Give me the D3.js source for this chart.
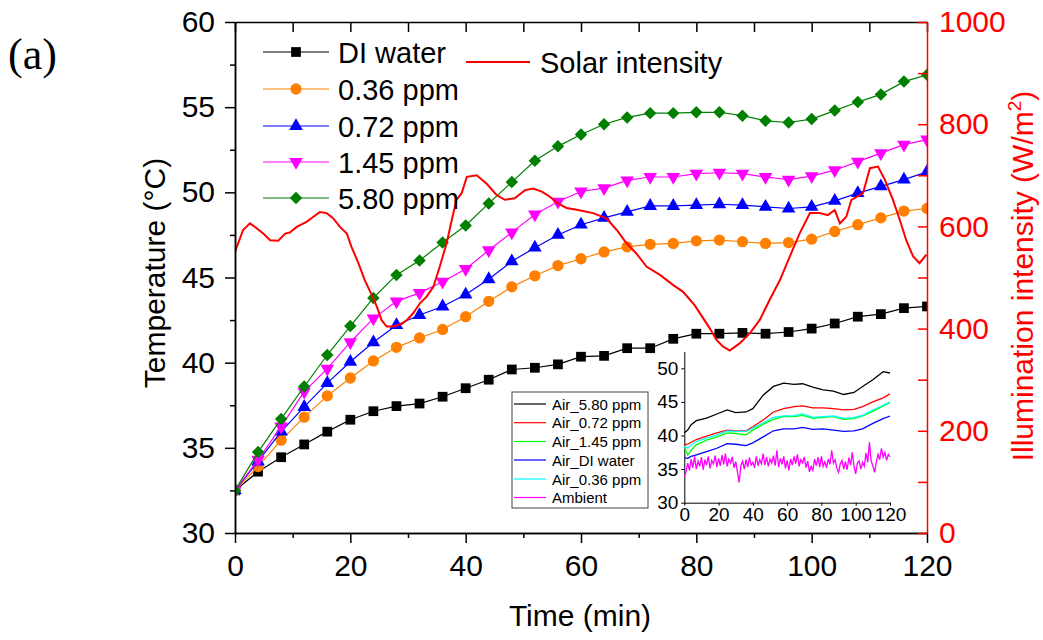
<!DOCTYPE html>
<html>
<head>
<meta charset="utf-8">
<script src="https://cdn.jsdelivr.net/npm/d3@7"></script>
<style>
  html, body { margin: 0; padding: 0; background: #fff; }
  svg { display: block; font-family: Arial, "Liberation Sans", sans-serif; }
</style>
</head>
<body>
<div id="chart"></div>
<script>
// ---- data ----
const MARK_TIMES = [0, 4, 8, 12, 16, 20, 24, 28, 32, 36, 40, 44, 48, 52, 56, 60, 64, 68, 72, 76, 80, 84, 88, 92, 96, 100, 104, 108, 112, 116, 120];
const DI_WATER = [32.5, 33.6, 34.45, 35.2, 35.95, 36.65, 37.15, 37.45, 37.6, 38.0, 38.5, 39.0, 39.6, 39.7, 39.9, 40.35, 40.4, 40.85, 40.85, 41.4, 41.7, 41.7, 41.75, 41.7, 41.8, 42.0, 42.3, 42.7, 42.85, 43.2, 43.3];
const PPM_036 = [32.5, 33.9, 35.45, 36.8, 38.05, 39.1, 40.1, 40.9, 41.45, 41.95, 42.7, 43.6, 44.45, 45.1, 45.7, 46.1, 46.5, 46.8, 46.95, 47.0, 47.15, 47.2, 47.1, 47.0, 47.05, 47.25, 47.7, 48.1, 48.5, 48.9, 49.05];
const PPM_072 = [32.5, 34.2, 35.95, 37.4, 38.8, 40.05, 41.2, 42.2, 42.8, 43.3, 44.0, 44.9, 45.95, 46.75, 47.5, 48.1, 48.5, 48.85, 49.2, 49.2, 49.25, 49.3, 49.25, 49.15, 49.05, 49.15, 49.5, 49.95, 50.35, 50.75, 51.2];
const PPM_145 = [32.5, 34.3, 36.25, 38.3, 39.65, 41.2, 42.6, 43.6, 44.1, 44.75, 45.5, 46.6, 47.65, 48.7, 49.45, 50.05, 50.25, 50.7, 50.9, 50.9, 51.1, 51.15, 51.1, 50.9, 50.75, 50.95, 51.3, 51.8, 52.3, 52.8, 53.1];
const PPM_580 = [32.5, 34.75, 36.7, 38.6, 40.45, 42.15, 43.8, 45.15, 46.0, 47.05, 48.05, 49.35, 50.6, 51.85, 52.7, 53.4, 54.0, 54.4, 54.65, 54.65, 54.7, 54.7, 54.5, 54.2, 54.1, 54.3, 54.8, 55.3, 55.75, 56.5, 56.9];

const SOLAR_TIMES = [0, 1.4, 2.6, 3.8, 4.9, 6.1, 7.5, 8.7, 9.5, 10.7, 12.4, 13.6, 14.7, 15.9, 17.0, 18.2, 19.4, 20.2, 21.4, 22.5, 23.7, 24.6, 25.4, 26.3, 27.4, 28.9, 29.8, 30.9, 32.1, 33.2, 34.4, 35.5, 36.7, 37.6, 38.4, 39.3, 40.2, 41.9, 43.6, 45.4, 46.8, 48.5, 50.3, 51.7, 53.2, 54.6, 56.0, 57.5, 59.5, 62.1, 64.4, 66.2, 67.9, 69.6, 71.4, 73.7, 76.0, 77.7, 79.7, 81.2, 82.3, 83.5, 84.6, 85.8, 87.5, 89.3, 91.0, 92.7, 94.5, 96.2, 97.9, 99.7, 101.4, 102.8, 104.0, 104.9, 106.0, 106.9, 108.9, 110.1, 111.5, 112.7, 114.1, 115.3, 116.4, 117.6, 118.7, 119.9];
const SOLAR_INTENSITY = [550, 593, 606, 596, 586, 573, 572, 586, 588, 599, 609, 619, 628, 626, 616, 599, 586, 560, 528, 495, 466, 443, 417, 404, 404, 409, 417, 430, 450, 462, 482, 521, 567, 613, 652, 665, 697, 700, 684, 661, 652, 655, 671, 674, 668, 658, 645, 636, 632, 626, 616, 593, 567, 547, 521, 505, 485, 472, 446, 420, 401, 378, 365, 357, 371, 391, 417, 456, 495, 541, 586, 626, 626, 622, 632, 606, 619, 652, 665, 714, 717, 691, 652, 612, 573, 541, 528, 545];

const INSET_TIMES = [0, 2, 4, 7, 13, 19, 25, 30, 36, 40, 46, 52, 58, 64, 69, 75, 81, 87, 93, 99, 104, 110, 116, 120];
const AIR_580 = [40.4, 40.8, 41.6, 42.2, 42.6, 43.2, 43.8, 43.4, 43.5, 44.0, 46.0, 47.3, 47.8, 47.6, 47.7, 47.2, 46.8, 46.6, 46.1, 46.4, 47.3, 48.3, 49.5, 49.3];
const AIR_072 = [38.6, 38.7, 39.0, 39.4, 39.9, 40.4, 40.8, 40.7, 40.7, 41.3, 42.3, 43.5, 44.0, 44.3, 44.4, 44.1, 44.1, 44.0, 43.8, 43.9, 44.3, 45.0, 45.6, 46.2];
const AIR_145 = [38.3, 37.1, 37.8, 38.6, 39.3, 39.8, 40.4, 40.3, 40.1, 40.8, 41.7, 42.4, 42.8, 42.8, 43.0, 42.55, 42.7, 42.8, 42.4, 42.5, 42.9, 43.6, 44.4, 44.9];
const AIR_DI = [36.7, 36.6, 36.9, 37.1, 37.6, 38.1, 38.8, 38.7, 38.5, 38.9, 39.8, 40.7, 41.0, 41.0, 41.2, 40.9, 41.0, 40.8, 40.6, 40.7, 41.0, 41.8, 42.5, 42.9];
const AIR_036 = [38.4, 38.1, 38.6, 39.1, 39.6, 40.1, 40.7, 40.6, 40.6, 41.1, 41.9, 42.7, 42.9, 42.95, 43.2, 42.7, 42.8, 42.9, 42.55, 42.65, 43.0, 43.8, 44.5, 45.0];
const AMBIENT_TIMES = [
  0, 1, 2, 3, 4, 5, 6, 7, 8, 9, 10, 11, 12, 13, 14, 15, 16, 17, 18, 19,
  20, 21, 22, 23, 24, 25, 26, 27, 28, 29, 30, 31, 32, 33, 34, 35, 36, 37, 38, 39,
  40, 41, 42, 43, 44, 45, 46, 47, 48, 49, 50, 51, 52, 53, 54, 55, 56, 57, 58, 59,
  60, 61, 62, 63, 64, 65, 66, 67, 68, 69, 70, 71, 72, 73, 74, 75, 76, 77, 78, 79,
  80, 81, 82, 83, 84, 85, 86, 87, 88, 89, 90, 91, 92, 93, 94, 95, 96, 97, 98, 99,
  100, 101, 102, 103, 104, 105, 106, 107, 108, 109, 110, 111, 112, 113, 114, 115, 116, 117, 118, 119, 120];
const AMBIENT = [
  33.8, 34.6, 35.9, 34.8, 36.5, 35.2, 36.9, 35.0, 36.2, 35.4, 36.8, 34.9, 36.4, 35.6, 36.9, 35.1, 36.3, 35.8, 37.0, 35.3,
  36.6, 35.5, 37.1, 35.7, 37.3, 35.4, 36.5, 35.9, 36.8, 35.2, 36.1, 34.6, 33.0, 35.5, 36.2, 35.0, 36.4, 35.3, 36.7, 35.6,
  36.0, 35.2, 36.9, 35.5, 36.4, 35.8, 37.3, 35.6, 36.8, 35.4, 36.5, 35.9, 37.0, 35.5, 37.8, 35.3, 36.6, 35.7, 36.9, 35.1,
  36.3, 34.8, 36.5, 35.6, 36.9, 35.8, 37.2, 35.4, 36.4, 35.9, 36.8, 35.2, 36.2, 34.6, 35.4, 34.8, 36.5, 35.5, 36.8, 35.3,
  36.9, 35.4, 36.1, 35.2, 36.5, 35.7, 37.8, 35.9, 36.4, 35.1, 34.5, 35.8, 36.3, 35.0, 36.1, 34.9, 36.7, 35.6, 37.5, 35.4,
  34.3, 35.9, 36.2, 35.0, 36.0, 35.4, 37.4, 36.0, 39.0, 36.2, 35.5, 34.5, 36.0, 37.2, 36.4, 38.1, 36.8, 37.5, 36.3, 37.2, 36.8];

// ---- tick labels ----
const TEMP_TICKS = [30, 35, 40, 45, 50, 55, 60];
const TEMP_MINOR = [32.5, 37.5, 42.5, 47.5, 52.5, 57.5];
const TIME_TICKS = [0, 20, 40, 60, 80, 100, 120];
const TIME_MINOR = [10, 30, 50, 70, 90, 110];
const SOLAR_TICKS = [0, 100, 200, 300, 400, 500, 600, 700, 800, 900, 1000];
const INSET_TEMP_TICKS = [30, 35, 40, 45, 50];

const WIDTH = 1043;
const HEIGHT = 640;
const FONT = "Arial, 'Liberation Sans', sans-serif";
const PLOT = { left: 235, right: 927, top: 22, bottom: 533 };
const INSET = { left: 684.3, right: 890, top: 351.5, bottom: 502.7 };

const SYMBOLS = {
  square: { type: d3.symbolSquare, size: 95, rotate: 0 },
  circle: { type: d3.symbolCircle, size: 100, rotate: 0 },
  triangleUp: { type: d3.symbolTriangle, size: 80, rotate: 0 },
  triangleDown: { type: d3.symbolTriangle, size: 80, rotate: 180 },
  diamond: { type: d3.symbolSquare, size: 78, rotate: 45 }
};

const MAIN_SERIES = [
  { name: "DI water", values: DI_WATER, color: "#000000", symbol: "square" },
  { name: "0.36 ppm", values: PPM_036, color: "#ff8000", symbol: "circle" },
  { name: "0.72 ppm", values: PPM_072, color: "#0000ff", symbol: "triangleUp" },
  { name: "1.45 ppm", values: PPM_145, color: "#ff00ff", symbol: "triangleDown" },
  { name: "5.80 ppm", values: PPM_580, color: "#007f00", symbol: "diamond" }
];

const INSET_SERIES = [
  { name: "Air_5.80 ppm", times: INSET_TIMES, values: AIR_580, color: "#000000" },
  { name: "Air_0.72 ppm", times: INSET_TIMES, values: AIR_072, color: "#ff0000" },
  { name: "Air_1.45 ppm", times: INSET_TIMES, values: AIR_145, color: "#00ff00" },
  { name: "Air_DI water", times: INSET_TIMES, values: AIR_DI, color: "#0000ff" },
  { name: "Air_0.36 ppm", times: INSET_TIMES, values: AIR_036, color: "#00ffff" },
  { name: "Ambient", times: AMBIENT_TIMES, values: AMBIENT, color: "#ff00ff" }
];

/**
 * Draws a marker symbol at a point.
 */
function drawSymbol(g, kind, cx, cy, color) {
  const spec = SYMBOLS[kind];
  g.append("path")
    .attr("d", d3.symbol().type(spec.type).size(spec.size)())
    .attr("transform", `translate(${cx},${cy}) rotate(${spec.rotate})`)
    .attr("fill", color);
}

/**
 * Applies stroke and font styling to an axis group.
 */
function styleAxis(g, color, fontSize, width) {
  g.attr("font-family", FONT).attr("font-size", fontSize);
  g.select(".domain").attr("stroke", color).attr("stroke-width", width);
  g.selectAll(".tick line").attr("stroke", color).attr("stroke-width", width);
  g.selectAll(".tick text").attr("fill", color);
}

function renderAxes(svg, x, y, yR) {
  const left = svg.append("g").attr("transform", `translate(${PLOT.left},0)`);
  left.append("g").call(d3.axisLeft(y).tickValues(TEMP_MINOR).tickSize(5).tickFormat("").tickSizeOuter(0))
    .call((g) => styleAxis(g, "#000", 30, 1.5));
  left.append("g").call(d3.axisLeft(y).tickValues(TEMP_TICKS).tickSize(10).tickPadding(10).tickSizeOuter(0))
    .call((g) => styleAxis(g, "#000", 30, 1.5));

  const bottom = svg.append("g").attr("transform", `translate(0,${PLOT.bottom})`);
  bottom.append("g").call(d3.axisBottom(x).tickValues(TIME_MINOR).tickSize(5).tickFormat("").tickSizeOuter(0))
    .call((g) => styleAxis(g, "#000", 30, 1.5));
  bottom.append("g").call(d3.axisBottom(x).tickValues(TIME_TICKS).tickSize(10).tickPadding(12).tickSizeOuter(0))
    .call((g) => styleAxis(g, "#000", 30, 1.5));

  svg.append("g").attr("transform", `translate(0,${PLOT.top})`)
    .call(d3.axisTop(x).tickValues(TIME_TICKS.concat(TIME_MINOR)).tickSize(-10).tickFormat("").tickSizeOuter(0))
    .call((g) => styleAxis(g, "#000", 30, 1.5));

  svg.append("g").attr("transform", `translate(${PLOT.right},0)`)
    .call(d3.axisRight(yR).tickValues(SOLAR_TICKS).tickSize(-9).tickPadding(12).tickSizeOuter(0)
      .tickFormat((d) => (d % 200 === 0 ? d : "")))
    .call((g) => styleAxis(g, "#ff0000", 30, 1.5));
}

function renderAxisTitles(svg) {
  svg.append("text")
    .attr("transform", "translate(165,273) rotate(-90)")
    .attr("text-anchor", "middle")
    .attr("font-size", 30)
    .text("Temperature (\u00b0C)");

  const right = svg.append("text")
    .attr("transform", "translate(1033,276) rotate(-90)")
    .attr("text-anchor", "middle")
    .attr("font-size", 30)
    .attr("fill", "#ff0000");
  right.append("tspan").text("Illumination intensity (W/m");
  right.append("tspan").attr("dy", -12).attr("font-size", 19).text("2");
  right.append("tspan").attr("dy", 12).text(")");

  svg.append("text")
    .attr("x", 580).attr("y", 626)
    .attr("text-anchor", "middle")
    .attr("font-size", 30)
    .text("Time (min)");

  svg.append("text")
    .attr("x", 8).attr("y", 69)
    .attr("font-family", "'Liberation Serif', 'Times New Roman', serif")
    .attr("font-size", 44)
    .text("(a)");
}

function renderMainSeries(svg, x, y, yR) {
  svg.append("clipPath").attr("id", "plot-clip")
    .append("rect")
    .attr("x", PLOT.left).attr("y", PLOT.top)
    .attr("width", PLOT.right - PLOT.left).attr("height", PLOT.bottom - PLOT.top);
  const layer = svg.append("g").attr("clip-path", "url(#plot-clip)");
  const line = d3.line().x((d) => x(d[0])).y((d) => y(d[1]));

  MAIN_SERIES.forEach((series) => {
    const points = MARK_TIMES.map((t, i) => [t, series.values[i]]);
    layer.append("path")
      .attr("d", line(points))
      .attr("fill", "none")
      .attr("stroke", series.color)
      .attr("stroke-width", 1.2);
    const marks = layer.append("g");
    points.forEach((p) => drawSymbol(marks, series.symbol, x(p[0]), y(p[1]), series.color));
  });

  const solarLine = d3.line().x((d) => x(d[0])).y((d) => yR(d[1]));
  layer.append("path")
    .attr("d", solarLine(SOLAR_TIMES.map((t, i) => [t, SOLAR_INTENSITY[i]])))
    .attr("fill", "none")
    .attr("stroke", "#ff0000")
    .attr("stroke-width", 2);
}

function renderMainLegend(svg) {
  const rows = [52, 89, 126, 162, 198];
  MAIN_SERIES.forEach((series, i) => {
    const g = svg.append("g").attr("transform", `translate(0,${rows[i]})`);
    g.append("line").attr("x1", 263).attr("x2", 329).attr("y1", 0).attr("y2", 0)
      .attr("stroke", series.color).attr("stroke-width", 1.2);
    drawSymbol(g, series.symbol, 296, 0, series.color);
    g.append("text").attr("x", 338).attr("y", 10.5).attr("font-size", 29).text(series.name);
  });
  svg.append("line").attr("x1", 466).attr("x2", 530).attr("y1", 62).attr("y2", 62)
    .attr("stroke", "#ff0000").attr("stroke-width", 2);
  svg.append("text").attr("x", 540).attr("y", 73).attr("font-size", 29).text("Solar intensity");
}

function renderInset(svg) {
  const ix = d3.scaleLinear().domain([0, 120]).range([INSET.left, INSET.right]);
  const iy = d3.scaleLinear().domain([30, 52.5]).range([INSET.bottom, INSET.top]);

  svg.append("g").attr("transform", `translate(${INSET.left},0)`)
    .call(d3.axisLeft(iy).tickValues(INSET_TEMP_TICKS).tickSize(3).tickPadding(3).tickSizeOuter(0))
    .call((g) => styleAxis(g, "#000", 19, 1));
  svg.append("g").attr("transform", `translate(0,${INSET.bottom})`)
    .call(d3.axisBottom(ix).tickValues(TIME_TICKS).tickSize(3).tickPadding(2).tickSizeOuter(0))
    .call((g) => styleAxis(g, "#000", 19, 1));

  const line = d3.line().x((d) => ix(d[0])).y((d) => iy(d[1]));
  INSET_SERIES.forEach((series) => {
    svg.append("path")
      .attr("d", line(series.times.map((t, i) => [t, series.values[i]])))
      .attr("fill", "none")
      .attr("stroke", series.color)
      .attr("stroke-width", 1.3);
  });

  svg.append("rect")
    .attr("x", 512).attr("y", 392).attr("width", 136).attr("height", 116)
    .attr("fill", "#fff").attr("stroke", "#444").attr("stroke-width", 1);
  const rows = [404, 422.7, 441.5, 460, 479, 497.5];
  INSET_SERIES.forEach((series, i) => {
    svg.append("line").attr("x1", 514).attr("x2", 546).attr("y1", rows[i]).attr("y2", rows[i])
      .attr("stroke", series.color).attr("stroke-width", 1.2);
    svg.append("text").attr("x", 552).attr("y", rows[i] + 5.5).attr("font-size", 15).text(series.name);
  });
}

function renderChart() {
  const svg = d3.select("#chart").append("svg")
    .attr("width", WIDTH).attr("height", HEIGHT)
    .attr("font-family", FONT);
  const x = d3.scaleLinear().domain([0, 120]).range([PLOT.left, PLOT.right]);
  const y = d3.scaleLinear().domain([30, 60]).range([PLOT.bottom, PLOT.top]);
  const yR = d3.scaleLinear().domain([0, 1000]).range([PLOT.bottom, PLOT.top]);

  renderMainSeries(svg, x, y, yR);
  renderAxes(svg, x, y, yR);
  renderAxisTitles(svg);
  renderMainLegend(svg);
  renderInset(svg);
}

renderChart();
</script>
</body>
</html>
